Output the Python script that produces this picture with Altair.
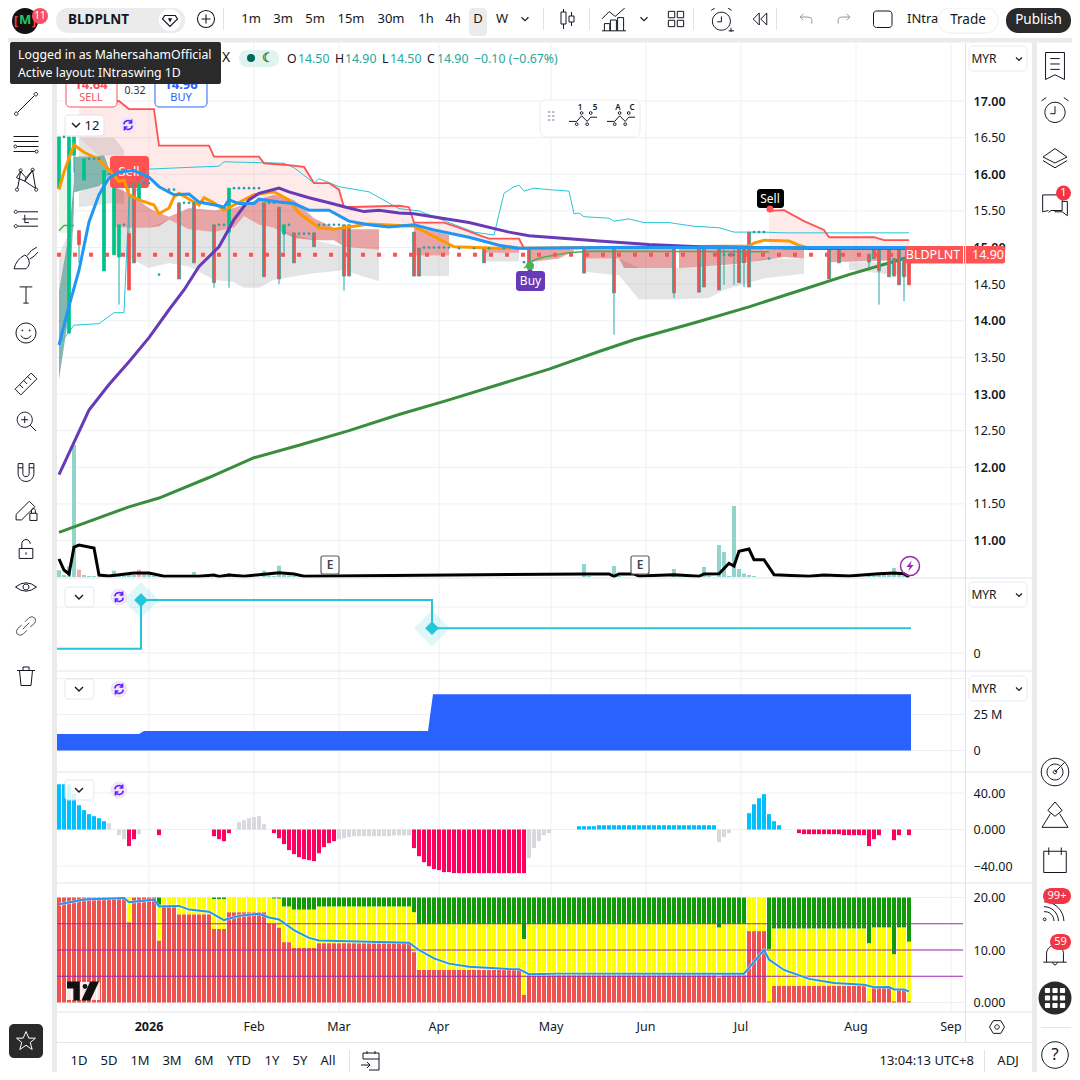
import altair as alt
import pandas as pd

FONT = "Noto Sans"
W = H = 1064

# ---------- candles ----------
candle_i = [0, 2, 3, 4, 5, 9, 11, 12, 14, 15, 16, 24, 27, 31, 34, 41, 44, 45, 47, 51, 57, 58, 71, 72, 85, 94, 105, 111,
            123, 128, 129, 132, 136, 137, 138, 154, 156, 162, 163, 164, 166, 167, 168, 169, 170]
candle_top = [16.51, 16.51, 16.51, 15.23, 16.21, 16.05, 15.81, 15.31, 15.19, 15.88, 15.88, 15.61, 15.61, 15.31, 15.81,
              15.61, 15.55, 15.31, 15.20, 15.20, 15.31, 15.31, 15.21, 14.99, 14.99, 14.99, 14.99, 14.99,
              14.99, 14.99, 14.99, 14.99, 14.99, 14.99, 15.21, 14.99, 14.99, 14.91, 14.99, 14.99, 14.99, 14.85, 14.99, 14.85, 14.85]
candle_bot = [15.81, 13.83, 16.26, 15.04, 15.92, 14.68, 14.90, 14.87, 14.42, 14.79, 15.65, 14.57, 14.79, 14.52, 15.21,
              14.60, 14.57, 15.19, 14.79, 15.01, 14.61, 14.61, 14.61, 14.61, 14.79, 14.79, 14.65, 14.38,
              14.38, 14.39, 14.46, 14.42, 14.52, 14.79, 14.46, 14.57, 14.79, 14.80, 14.85, 14.68, 14.60, 14.61, 14.49, 14.60, 14.49]
candle_low = [15.81, 13.83, 16.02, 14.79, 15.92, 14.68, 14.90, 14.22, 14.42, 14.79, 15.65, 14.57, 14.79, 14.45, 14.45,
              14.60, 14.50, 14.93, 14.79, 15.01, 14.41, 14.61, 14.61, 14.61, 14.79, 14.79, 14.65, 13.81,
              14.31, 14.39, 14.46, 14.42, 14.52, 14.46, 14.46, 14.57, 14.79, 14.72, 14.85, 14.22, 14.60, 14.61, 14.49, 14.27, 14.49]
candle_high = [16.51, 16.51, 16.51, 15.23, 16.21, 16.05, 15.81, 15.31, 15.88, 15.88, 15.88, 15.61, 15.61, 15.31, 15.81,
               15.61, 15.55, 15.31, 15.20, 15.20, 15.31, 15.31, 15.21, 14.99, 14.99, 14.99, 14.99, 14.99,
               14.99, 14.99, 14.99, 14.99, 14.99, 14.99, 15.21, 14.99, 14.99, 14.91, 14.99, 14.99, 14.99, 14.85, 14.99, 14.85, 14.85]
candle_kind = ["g", "g", "g", "r", "g", "g", "g", "g", "r", "b", "g", "b", "b", "b", "g",
               "b", "b", "g", "b", "b", "b", "b", "b", "b", "b", "b", "b", "b",
               "b", "b", "b", "b", "b", "b", "b", "b", "b", "b", "b", "b", "b", "b", "b", "b", "r"]
extra_wick_i = [133, 135]
extra_wick_top = [14.99, 14.99]
extra_wick_low = [14.49, 14.49]

# ---------- moving averages ----------
blue_i = [0, 2, 4, 6, 8, 10, 12, 15, 18, 20, 23, 26, 28, 32, 33, 34, 36, 39, 40, 44, 47, 50, 54, 58, 62, 66, 71, 75, 82, 88, 92, 110, 130, 150, 170]
blue_v = [13.67, 14.20, 14.69, 15.35, 15.72, 15.95, 16.03, 16.05, 15.96, 15.83, 15.72, 15.73, 15.62, 15.57, 15.55, 15.65, 15.60, 15.60, 15.66, 15.62, 15.60, 15.51, 15.51, 15.36, 15.31, 15.28, 15.31, 15.24, 15.14, 15.03, 14.99, 15.00, 15.00, 15.00, 15.00]
orange_i = [0, 1, 3, 5, 8, 10, 12, 13, 14, 16, 19, 20, 22, 23, 24, 28, 29, 31, 33, 35, 39, 43, 46, 48, 52, 55, 58, 62, 71, 79, 88, 93, 138, 139, 141, 146, 148, 150, 170]
orange_v = [15.79, 16.03, 16.40, 16.30, 16.20, 16.06, 15.90, 15.92, 15.72, 15.65, 15.58, 15.46, 15.54, 15.69, 15.74, 15.58, 15.68, 15.61, 15.51, 15.58, 15.72, 15.76, 15.65, 15.47, 15.27, 15.25, 15.28, 15.32, 15.29, 15.01, 14.99, 14.99, 15.02, 15.06, 15.10, 15.09, 15.03, 14.99, 14.99]
purple_i = [0, 6, 10, 14, 18, 22, 25, 28, 32, 35, 38, 40, 44, 46, 50, 54, 58, 61, 64, 68, 71, 82, 90, 94, 108, 118, 128, 150, 170]
purple_v = [11.90, 12.78, 13.13, 13.44, 13.77, 14.15, 14.42, 14.74, 15.01, 15.38, 15.65, 15.74, 15.81, 15.76, 15.68, 15.61, 15.54, 15.49, 15.51, 15.47, 15.46, 15.34, 15.21, 15.16, 15.09, 15.04, 15.01, 14.99, 14.99]
sma_i = [0, 14, 20, 30, 39, 48, 58, 68, 78, 88, 98, 108, 115, 128, 138, 148, 158, 168, 170]
sma_v = [11.11, 11.46, 11.58, 11.86, 12.13, 12.30, 12.50, 12.72, 12.92, 13.13, 13.34, 13.58, 13.74, 13.99, 14.19, 14.41, 14.63, 14.83, 14.87]

# ---------- resistance (red) / teal channel / thin green ----------
res1_i = [4, 12, 14, 19, 20, 30, 31, 40, 41, 45, 49, 51, 54, 56, 57, 68, 70, 71, 77, 80, 84, 86, 92, 93]
res1_v = [16.98, 17.00, 16.89, 16.89, 16.39, 16.39, 16.24, 16.24, 16.15, 16.13, 16.10, 15.88, 15.88, 15.79, 15.55, 15.57, 15.55, 15.34, 15.34, 15.27, 15.17, 15.12, 15.12, 14.99]
res1_low = [16.50, 16.00, 16.03, 15.90, 15.83, 15.60, 15.60, 15.66, 15.66, 15.62, 15.53, 15.51, 15.51, 15.40, 15.36, 15.30, 15.31, 15.31, 15.22, 15.17, 15.10, 15.07, 14.99, 14.99]
res2_i = [142, 145, 149, 153, 154, 163, 165, 170]
res2_v = [15.50, 15.51, 15.36, 15.24, 15.14, 15.14, 15.10, 15.10]
res2_low = [15.02, 15.02, 15.02, 15.02, 15.02, 15.02, 15.02, 15.02]
teal_i = [0, 3, 8, 11, 13, 14, 16, 18, 28, 32, 33, 45, 47, 51, 52, 56, 62, 68, 72, 78, 83, 87, 89, 91, 92, 93, 95, 98, 102, 103, 104, 105, 110, 111, 114, 117, 122, 127, 132, 135, 141, 145, 170]
teal_v = [13.67, 13.94, 13.96, 14.11, 14.11, 15.65, 15.83, 16.07, 16.10, 16.11, 16.17, 16.15, 16.09, 15.88, 15.94, 15.83, 15.76, 15.53, 15.50, 15.34, 15.21, 15.17, 15.74, 15.83, 15.85, 15.77, 15.81, 15.79, 15.77, 15.46, 15.47, 15.42, 15.40, 15.36, 15.39, 15.34, 15.34, 15.29, 15.27, 15.21, 15.21, 15.20, 15.20]
thin1_i = [0, 1, 3]
thin1_v = [15.23, 15.30, 15.30]
thin2_i = [93, 95, 97, 102, 106, 142]
thin2_v = [14.72, 14.83, 14.87, 14.93, 14.95, 14.94]

# ---------- clouds ----------
rb_seg = [1] * 16 + [2, 2, 3, 3, 4, 4, 4, 5, 5, 5, 5, 6, 6, 6, 6, 7, 7]
rb_i = [11, 14, 18, 20, 22, 26, 31, 35, 37, 40, 43, 47, 51, 55, 57, 64, 71, 78, 85, 92, 94, 100, 103, 105, 112, 113, 123, 124, 135, 145, 149, 154, 170]
rb_top = [15.83, 15.74, 15.54, 15.47, 15.42, 15.54, 15.51, 15.54, 15.59, 15.66, 15.72, 15.65, 15.40, 15.27, 15.25, 15.25, 15.28, 15.17, 14.99, 14.99, 14.99, 14.99, 14.97, 14.99, 14.99, 14.99, 14.99, 14.99, 14.99, 14.99, 14.99, 14.99, 14.99]
rb_bot = [15.28, 15.27, 15.27, 15.29, 15.38, 15.25, 15.21, 15.27, 15.43, 15.31, 15.27, 15.13, 15.10, 15.10, 15.01, 14.97, 14.89, 14.89, 14.93, 14.93, 14.80, 14.85, 14.95, 14.85, 14.85, 14.72, 14.72, 14.72, 14.77, 14.87, 14.85, 14.80, 14.83]
gb_seg = [1] * 13 + [2, 2, 3, 3, 5, 5, 5, 5, 6, 6, 6, 6, 6, 6, 7, 7, 0, 0, 0, 8, 8, 8, 9, 9]
gb_i = [11, 14, 18, 22, 26, 31, 35, 37, 40, 43, 51, 57, 64, 71, 78, 85, 92, 105, 112, 116, 123, 123, 130, 133, 137, 141, 149, 158, 170, 4, 11, 13, 4, 10, 13, 0, 2]
gb_top = [15.28, 15.27, 15.27, 15.38, 15.25, 15.21, 15.27, 15.43, 15.31, 15.27, 15.10, 15.01, 14.97, 14.89, 14.89, 14.93, 14.93, 14.85, 14.85, 14.72, 14.72, 14.72, 14.75, 14.75, 14.77, 14.85, 14.85, 14.80, 14.80, 16.50, 16.50, 16.33, 15.75, 15.95, 16.00, 14.90, 15.20]
gb_bot = [14.90, 14.86, 14.72, 14.79, 14.74, 14.56, 14.53, 14.45, 14.45, 14.56, 14.65, 14.69, 14.54, 14.61, 14.61, 14.81, 14.81, 14.67, 14.62, 14.29, 14.29, 14.29, 14.31, 14.42, 14.50, 14.58, 14.64, 14.70, 14.60, 16.24, 16.26, 16.10, 15.55, 15.60, 15.60, 14.30, 15.00]
tc_seg = [1, 1, 1, 2, 2, 2, 2, 2]
tc_i = [0, 2, 3, 3, 8, 9, 10, 11]
tc_top = [14.40, 15.20, 15.90, 16.24, 16.25, 16.26, 16.09, 16.05]
tc_bot = [13.20, 14.10, 15.60, 15.75, 15.84, 15.90, 16.00, 16.03]

# ---------- small dots ----------
dot_i = [1, 6, 7, 8, 10, 13, 17, 18, 20, 22, 23, 25, 26, 27, 32, 33, 35, 36, 37, 38, 39, 40, 42, 43, 45, 46, 48, 49, 50, 52, 53, 54, 55, 56,
         73, 74, 75, 76, 77, 78, 80, 83, 86, 89, 93, 133, 134, 135, 139, 140, 141, 142, 143, 145, 147, 149]
dot_v = [16.51, 16.21, 16.21, 16.21, 16.00, 15.31, 15.88, 15.88, 14.63, 15.79, 15.79, 15.61, 15.61, 15.61, 15.31, 15.31, 15.81, 15.81, 15.81, 15.81, 15.81, 15.81, 15.61, 15.61, 15.19, 15.31, 15.19, 15.19, 15.19, 15.31, 15.31, 15.31, 15.31, 15.31,
         15.00, 15.00, 15.00, 15.00, 15.00, 15.00, 14.99, 14.99, 14.99, 14.99, 14.80, 14.90, 14.90, 14.90, 15.21, 15.21, 15.21, 14.85, 14.99, 14.99, 14.99, 14.99]

# ---------- volume ----------
vol_i = [0, 1, 2, 3, 4, 5, 6, 7, 11, 12, 13, 14, 15, 16, 17, 18, 19, 21, 24, 27, 28, 34, 35, 41, 42, 43, 44, 45, 46, 47, 105, 106, 111, 112, 123, 124, 129, 130, 132, 133, 134, 135, 136, 137, 138, 139, 162, 163, 164, 165, 166, 167, 168, 169]
vol_h = [6.7, 2, 10.7, 132, 7.3, 2, 1, 1, 6.3, 1.5, 1.5, 2.3, 2, 7.3, 5, 3, 1, 1, 1, 5, 1, 4, 1, 6.3, 1.5, 1, 11.3, 2, 1.5, 1, 13, 1, 11, 1, 8, 1, 10, 1, 32, 25, 1, 71, 8, 3.5, 2, 1, 1, 1.5, 2, 2, 2, 9, 3, 2]
vol_kind = ["u", "u", "u", "u", "d"] + ["u"] * 6 + ["u", "u", "d"] + ["u"] * 40
volma_i = [0, 1, 2, 3, 4, 7, 8, 10, 15, 18, 21, 28, 31, 32, 34, 37, 44, 47, 49, 105, 110, 111, 112, 115, 116, 123, 128, 129, 132, 134, 135, 136, 138, 139, 141, 143, 150, 153, 158, 164, 167, 169, 170]
volma_h = [18, 7, 3, 30, 32, 29, 2, 1, 4, 4, 0.7, 0.8, 2, 0.5, 2, 0.7, 4.3, 3, 0.7, 3, 3, 0.7, 3, 3, 1, 2.3, 0.7, 3, 3.3, 13.7, 11, 25.7, 28, 17.3, 17.3, 2.3, 0.7, 2, 1, 3.3, 4, 3.3, 0]

# ---------- step pane ----------
step_i = [-0.4, 16.4, 74.6, 170.4]
step_v = [0.09, 1.15, 0.54, 0.54]
pivot_i = [16.4, 74.6]
pivot_v = [1.15, 0.54]

# ---------- funds pane ----------
fund_i = [-0.4, 16, 17, 73.8, 74.8, 170.4]
fund_v = [11.5, 11.5, 13.5, 13.5, 39.0, 39.0]

# ---------- histogram pane ----------
hist_v = ([49.6, 49.6, 49.6, 39.4, 26.6, 21.2, 16.8, 14.6, 12.4, 9.1,
           6.9, 0, -6.2, -10.6, -18.2, -10.6, -5.1, 0, 0, 0, -6.2]
          + [0] * 10 + [-7.3, -10.6, -12.8, -4.0, 0, 8, 10.2, 12.4, 13.5, 14.6, 5.8,
                        0, -4, -9.5, -16, -22.6, -27, -30.3, -32.5, -33.6, -34.7, -26, -19.3, -15, -12.8,
                        -10.6, -9.5, -8.4] + [-7.3] * 8 + [-6.5] * 4
          + [-20.4, -29.2, -35.8, -40.2, -43.4, -44.5, -46.7, -46.7] + [-47.8] * 15
          + [-31.4, -20.4, -12.8, -6.2, -4] + [0] * 5 + [3.6] * 4 + [4.7] * 24
          + [-13.9, -8.4, -4, 0, 0, 0, 17.9, 27.7, 34.3, 38.7, 16.8, 9.1, 4.7, 0, 0, 0, -4]
          + [-5.1] * 8 + [-6.2] * 5 + [-18.2, -10.6, -6.2, 0, 0, -11.7, -6.2, 0, -6.2])
hist_state = (["up"] * 10 + ["flat"] * 4 + ["down"] * 2 + ["flat"] * 4 + ["down"] + ["flat"] * 10 + ["down"] * 4
              + ["flat"] * 7 + ["down"] * 14 + ["flat"] * 15 + ["down"] * 23 + ["flat"] * 10 + ["up"] * 28
              + ["flat"] * 6 + ["up"] * 7 + ["flat"] * 3 + ["down"] * 23)

# ---------- stacked rank pane ----------
red_top = ([20] * 14 + [15.3] + [20] * 5 + [11.8] + [18.6] * 3 + [16.8] * 7 + [14] * 3 + [17.2] * 8 + [15, 15, 14.3]
           + [11.5] * 2 + [10.4] * 5 + [11.3] * 19 + [9.6] + [6.2] * 21 + [1.5] + [5.2] * 38 + [4.8] + [5.2] * 5
           + [13.6] * 4 + [0.25] + [3.2] * 19 + [0.25] + [2.8] * 4 + [0.25] + [2.5] * 2 + [0.25])
yellow_top = ([20] * 20 + [18.6] + [20] * 10 + [19.7] * 3 + [20] * 9 + [19.8, 19.8]
              + [18.3] * 2 + [17.7] * 5 + [18.3] * 19 + [17.2] + [15] * 21 + [12.1] + [15] * 38 + [14.3] + [15] * 5
              + [20] * 4 + [10.2] + [14.1] * 19 + [11.3] + [14.3] * 4 + [9.2] + [14.3] * 2 + [11.6])
rank_line_i = [0, 5, 13, 14, 19, 20, 24, 26, 30, 33, 36, 40, 42, 44, 47, 50, 52, 60, 70, 72, 75, 78, 82, 90, 92, 94, 100, 137, 141, 142, 145, 150, 155, 161, 163, 166, 167, 169, 170]
rank_line_v = [18.7, 19.6, 19.9, 19.1, 19.6, 18.3, 18.4, 17.7, 17.3, 15.7, 16.5, 16.9, 16.2, 15.8, 13.8, 12.3, 11.8, 11.6, 11.4, 10.0, 8.4, 7.4, 6.8, 6.4, 6.35, 5.4, 5.5, 5.5, 10.0, 8.2, 6.2, 4.5, 3.7, 3.4, 2.9, 2.95, 2.5, 2.5, 2.1]
rank_levels = [5, 10, 15]

# ---------- axes ----------
price_ticks = [17, 16.5, 16, 15.5, 15, 14.5, 14, 13.5, 13, 12.5, 12, 11.5, 11]
month_pos = [18, 39, 56, 76, 98.4, 117.4, 136.4, 159.4, 178.4]
month_txt = ["2026", "Feb", "Mar", "Apr", "May", "Jun", "Jul", "Aug", "Sep"]
month_bold = ["bold", "normal", "normal", "normal", "normal", "normal", "normal", "normal", "normal"]
step_ticks = [0, 1]
fund_ticks = [0, 25, 50]
hist_ticks = [40, 0, -40]
rank_ticks = [20, 10, 0]
last_price = 14.90


def dom(v0, px0, v1, px1):
    k = (v1 - v0) / (px1 - px0)
    return [v0 + (1072 - px0) * k, v0 + (8 - px0) * k]


PRICE = dom(17.0, 101, 11.0, 540.5)
VOL = dom(0, 577, 100, 477)
STEP = dom(0, 653, 1, 607)
FUND = dom(0, 750.5, 25, 714.5)
HIST = dom(0, 829.5, 40, 793)
RANK = dom(0, 1002.5, 20, 897.5)
XS = alt.Scale(domain=[(8 - 59) / 5, (1072 - 59) / 5], nice=False, zero=False, padding=0)


def Y(f, d, axis=None):
    return alt.Y(f, scale=alt.Scale(domain=d, nice=False, zero=False), axis=axis, title=None)


def X(f="i:Q", axis=None):
    return alt.X(f, scale=XS, axis=axis, title=None)


def line(i, v, d, color, width=1.0, **kw):
    return alt.Chart(pd.DataFrame({"i": i, "v": v})).mark_line(color=color, strokeWidth=width, clip=False, **kw).encode(x=X(), y=Y("v:Q", d))


def band(i, top, bot, seg, color, op):
    df = pd.DataFrame({"i": i, "t": top, "b": bot, "s": seg})
    return alt.Chart(df).mark_area(color=color, opacity=op).encode(x=X(), y=Y("t:Q", PRICE), y2="b:Q", detail="s:N")


one = pd.DataFrame({"a": [0]})


def rect(x0, y0, x1, y1, fill="#ffffff", stroke=None, r=0, op=1.0, sw=1):
    kw = dict(fill=fill, opacity=op, cornerRadius=r)
    if stroke:
        kw.update(stroke=stroke, strokeWidth=sw)
    return alt.Chart(one).mark_rect(**kw).encode(x=alt.value(x0 - 8), x2=alt.value(x1 - 8), y=alt.value(y0 - 8), y2=alt.value(y1 - 8))


def txt(s, x, y, size=13, color="#131722", align="center", weight="normal", op=1.0):
    return alt.Chart(one).mark_text(text=s, font=FONT, fontSize=size, color=color, align=align, baseline="middle", fontWeight=weight, opacity=op).encode(x=alt.value(x - 8), y=alt.value(y - 8))


def icon(path, x, y, w, color="#131722", sw=1.0, filled=False, op=1.0):
    if filled:
        m = alt.Chart(one).mark_point(shape=path, size=w * w, filled=True, fill=color, strokeWidth=0, opacity=op)
    else:
        m = alt.Chart(one).mark_point(shape=path, size=w * w, filled=False, stroke=color, strokeWidth=sw, opacity=op)
    return m.encode(x=alt.value(x - 8), y=alt.value(y - 8))


def dot(x, y, r, fill, op=1.0):
    return icon("circle", x, y, 2 * r, fill, filled=True, op=op)


def circ(x, y, r):
    return f"M{x - r},{y}a{r},{r} 0 1,0 {2 * r},0a{r},{r} 0 1,0 {-2 * r},0Z"


def ax_y(values, expr=None, fmt=None, weight=None, color="#131722"):
    kw = dict(orient="right", offset=-107, values=values, grid=False, domain=False, ticks=False, labelPadding=8,
              labelFont=FONT, labelFontSize=12.5, labelColor=color, labelAlign="left", labelBaseline="middle",
              labelOverlap=False, labelBound=False, labelFlush=False, title=None)
    if expr:
        kw["labelExpr"] = expr
    if fmt:
        kw["format"] = fmt
    if weight:
        kw["labelFontWeight"] = weight
    return alt.Axis(**kw)


def hgrid(values, d, axis):
    df = pd.DataFrame({"v": values})
    return alt.Chart(df).mark_rule(color="#eef0f4", strokeWidth=1).encode(y=Y("v:Q", d, axis), x=alt.value(49), x2=alt.value(957))


layers = []
add = layers.append

# ---- grids with axes
mdf = pd.DataFrame({"i": month_pos, "t": month_txt, "b": month_bold})
add(alt.Chart(mdf).mark_rule(color="#eef0f4").encode(x=X("i:Q"), y=alt.value(35), y2=alt.value(1004)))
add(alt.Chart(mdf[mdf.b == "normal"]).mark_text(font=FONT, fontSize=12.5, color="#131722", baseline="middle").encode(x=X("i:Q"), y=alt.value(1019), text="t:N"))
add(alt.Chart(mdf[mdf.b == "bold"]).mark_text(font=FONT, fontSize=12.5, color="#131722", baseline="middle", fontWeight="bold").encode(x=X("i:Q"), y=alt.value(1019), text="t:N"))
add(hgrid(price_ticks, PRICE, ax_y(price_ticks, fmt=".2f", weight={"condition": {"test": "datum.value % 1 == 0", "value": 600}, "value": "normal"})))
add(hgrid(step_ticks, STEP, ax_y([0], expr="'0'")))
add(hgrid(fund_ticks, FUND, ax_y([0, 25], expr="datum.value == 25 ? '25 M' : '0'")))
add(hgrid(hist_ticks, HIST, ax_y(hist_ticks, expr="datum.value == 0 ? '0.000' : datum.value > 0 ? '40.00' : '−40.00'")))
add(hgrid(rank_ticks, RANK, ax_y(rank_ticks, expr="datum.value == 0 ? '0.000' : datum.value == 10 ? '10.00' : '20.00'")))

# ---- main pane: volume
vdf = pd.DataFrame({"i": vol_i, "h": vol_h, "k": (vol_kind + ["u"] * len(vol_i))[:len(vol_i)]})
add(alt.Chart(vdf).mark_bar(size=4).encode(x=X(), y=Y("h:Q", VOL), y2=alt.Y2(datum=0),
                                             color=alt.Color("k:N", scale=alt.Scale(domain=["u", "d"], range=["#92d3cc", "#f7a9a7"]), legend=None)))

# ---- clouds
add(alt.Chart(pd.DataFrame({"i": [0, 3], "t": [16.0, 16.0], "b": [15.2, 15.2]})).mark_area(color="#e8f5e9").encode(x=X(), y=Y("t:Q", PRICE), y2="b:Q"))
add(band(tc_i, tc_top, tc_bot, tc_seg, "#00695c", 0.48))
add(band(gb_i, gb_top, gb_bot, gb_seg, "#9e9e9e", 0.28))
add(band(rb_i, rb_top, rb_bot, rb_seg, "#c62828", 0.42))
add(band(res1_i, res1_v, res1_low, [1] * len(res1_i), "#ff5252", 0.12))
add(band(res2_i, res2_v, res2_low, [1] * len(res2_i), "#ff5252", 0.12))

# ---- big red Sell tag under the lines
add(rect(110, 156, 149, 188, "#ff5252", r=3))
add(txt("Sell", 129, 172, 13, "#ffffff"))

# ---- lines under candles
add(line(teal_i, teal_v, PRICE, "#26c6da", 1))
add(line(thin1_i, thin1_v, PRICE, "#4caf50", 1.5))
add(line(thin2_i, thin2_v, PRICE, "#4caf50", 1.5))
add(line(res1_i, res1_v, PRICE, "#ff5252", 1.8))
add(line(res2_i, res2_v, PRICE, "#ff5252", 1.8))
add(line(sma_i, sma_v, PRICE, "#388e3c", 3))

# ---- candles
cdf = pd.DataFrame({"i": candle_i, "t": candle_top, "b": candle_bot, "l": candle_low, "h": candle_high, "k": candle_kind})
add(alt.Chart(cdf).mark_rule(color="#26a69a", strokeWidth=1).encode(x=X(), y=Y("l:Q", PRICE), y2="h:Q"))
add(alt.Chart(pd.DataFrame({"i": extra_wick_i, "t": extra_wick_top, "l": extra_wick_low})).mark_rule(color="#26a69a", strokeWidth=1).encode(x=X(), y=Y("l:Q", PRICE), y2="t:Q"))
add(alt.Chart(cdf).mark_bar(size=3, strokeWidth=0.7).encode(
    x=X(), y=Y("t:Q", PRICE), y2="b:Q",
    fill=alt.Fill("k:N", scale=alt.Scale(domain=["g", "r", "b"], range=["#00c389", "#f44b4b", "#f0524f"]), legend=None),
    stroke=alt.Stroke("k:N", scale=alt.Scale(domain=["g", "r", "b"], range=["#00c389", "#f44b4b", "#26a69a"]), legend=None)))

# ---- moving averages on top
add(line(orange_i, orange_v, PRICE, "#ff9800", 3))
add(line(purple_i, purple_v, PRICE, "#673ab7", 3))
add(line(blue_i, blue_v, PRICE, "#2196f3", 3))

# ---- last price dots and small dots
add(alt.Chart(pd.DataFrame({"v": [last_price]})).mark_rule(color="#ff5252", strokeWidth=4, strokeDash=[4, 12]).encode(y=Y("v:Q", PRICE), x=alt.value(49), x2=alt.value(957)))
add(alt.Chart(pd.DataFrame({"i": dot_i, "v": dot_v})).mark_point(filled=True, size=7, color="#2b9cb5", opacity=1).encode(x=X(), y=Y("v:Q", PRICE)))

# ---- volume MA
add(line(volma_i, volma_h, VOL, "#000000", 3))

# ---- step pane
add(alt.Chart(pd.DataFrame({"i": pivot_i, "v": pivot_v})).mark_point(shape="diamond", filled=True, size=1300, color="#26c6da", opacity=0.14).encode(x=X(), y=Y("v:Q", STEP)))
add(alt.Chart(pd.DataFrame({"i": step_i, "v": step_v})).mark_line(color="#26c6da", strokeWidth=2, interpolate="step-after").encode(x=X(), y=Y("v:Q", STEP)))
add(alt.Chart(pd.DataFrame({"i": pivot_i, "v": pivot_v})).mark_point(shape="diamond", filled=True, size=190, color="#26c6da", opacity=1).encode(x=X(), y=Y("v:Q", STEP)))

# ---- funds pane
add(alt.Chart(pd.DataFrame({"i": fund_i, "v": fund_v})).mark_area(color="#2962ff").encode(x=X(), y=Y("v:Q", FUND), y2=alt.Y2(datum=0)))

# ---- histogram pane
hdf = pd.DataFrame({"i": list(range(171)), "v": hist_v, "s": hist_state})
add(alt.Chart(hdf[hdf.v != 0]).mark_bar(size=4).encode(x=X(), y=Y("v:Q", HIST), y2=alt.Y2(datum=0),
                                                        color=alt.Color("s:N", scale=alt.Scale(domain=["up", "flat", "down"], range=["#00bfff", "#d8d9de", "#ff0060"]), legend=None)))

# ---- rank pane
rdf = pd.DataFrame({"i": list(range(171)), "r": red_top, "y": yellow_top, "top": [20] * 171})
add(alt.Chart(rdf).mark_bar(size=4, color="#ef5350").encode(x=X(), y=Y("r:Q", RANK), y2=alt.Y2(datum=0)))
add(alt.Chart(rdf).mark_bar(size=4, color="#ffff00").encode(x=X(), y=Y("y:Q", RANK), y2="r:Q"))
add(alt.Chart(rdf).mark_bar(size=4, color="#119a08").encode(x=X(), y=Y("top:Q", RANK), y2="y:Q"))
add(alt.Chart(pd.DataFrame({"v": rank_levels})).mark_rule(color="#9c27b0", strokeWidth=1).encode(y=Y("v:Q", RANK), x=alt.value(49), x2=alt.value(955)))
add(line(rank_line_i, rank_line_v, RANK, "#ffffff", 3.2, opacity=0.5))
add(line(rank_line_i, rank_line_v, RANK, "#2196f3", 2))

# ---- chart tags
add(rect(66, 982, 100, 1000, "#ffffff", op=0.85))
add(icon("M-1,-.6H-.2V.6H-.6V-.15H-1Z", 83, 991, 32, "#111111", filled=True))
add(dot(85, 986.5, 2.4, "#111111"))
add(icon("M.45,-.6H1L.45,.6H-.1Z", 83, 991, 32, "#111111", filled=True))
add(rect(516, 271, 545, 291, "#673ab7", r=3))
add(icon("triangle-up", 530, 270, 8, "#673ab7", filled=True))
add(txt("Buy", 530.5, 281, 12, "#ffffff"))
add(dot(530, 266, 4, "#4caf50"))
add(rect(757, 189, 784, 208, "#000000", r=3))
add(txt("Sell", 770, 198.5, 12, "#ffffff"))
add(dot(770, 209, 3.5, "#ff5252"))
add(rect(321, 556, 339, 574, "#ffffff", "#5d5d5d", r=2, sw=1.2))
add(txt("E", 330, 565, 12, "#444444", weight=600))
add(rect(631, 556, 649, 574, "#ffffff", "#5d5d5d", r=2, sw=1.2))
add(txt("E", 640, 565, 12, "#444444", weight=600))
add(icon(circ(0, 0, 0.95), 910, 566, 20, "#9c27b0", 1.5))
add(icon("M.3,-.9L-.6,.15H-.05L-.3,.9L.6,-.15H.05Z", 910, 566, 12, "#9c27b0", filled=True))

# ---- price tag
add(rect(905, 246, 1005, 263.5, "#ff5252", r=2))
add(txt("BLDPLNT", 933, 255, 12.5, "#ffffff"))
add(rect(963, 246, 964, 263.5, "#ffffff"))
add(txt("14.90", 988, 255, 12.5, "#ffffff"))

# ---- frame lines
for y_ in (578, 671, 772, 883, 1012):
    add(rect(56, y_ - 0.5, 1032, y_ + 0.5, "#e0e3eb"))
add(rect(965, 43, 966, 1042, "#e0e3eb"))
add(rect(52, 38, 57, 1072, "#ebebeb"))
add(rect(1032, 38, 1037, 1072, "#ebebeb"))
add(rect(8, 38, 1072, 42.5, "#ebebeb"))
add(rect(57, 1042, 1032, 1043, "#e6e6e6"))

# ---- floating widget
WAVE = "M-1,.1L-.45,.1L-.1,-.3L.3,.1L.55,-.2L1,-.2 " + circ(-.45, .3, .1) + circ(.3, .3, .1) + circ(-.1, -.5, .1) + circ(.55, -.5, .1)
add(rect(540, 100, 640, 137, "#ffffff", "#ececec", r=6))
add(icon(WAVE, 583, 120, 28, "#131722"))
add(icon(WAVE, 621, 120, 28, "#131722"))
add(txt("1", 580, 108, 8, weight=600))
add(txt("5", 595, 108, 8, weight=600))
add(txt("A", 618, 108, 8, weight=600))
add(txt("C", 632, 108, 8, weight=600))
add(txt("⠿", 551, 118, 14, "#b2b5be"))

# ---- legend bits
add(txt("X", 226, 58, 14))
add(rect(239, 50, 279, 67, "#dff3ef", r=8))
add(dot(251, 58, 4, "#00695c"))
add(txt("☾", 268, 58, 13, "#2e7d32", weight="bold"))
add(txt("O", 287, 59, 12.3, align="left"))
add(txt("14.50", 298, 59, 12.3, "#26a69a", align="left"))
add(txt("H", 335, 59, 12.3, align="left"))
add(txt("14.90", 345, 59, 12.3, "#26a69a", align="left"))
add(txt("L", 382, 59, 12.3, align="left"))
add(txt("14.50", 390, 59, 12.3, "#26a69a", align="left"))
add(txt("C", 427, 59, 12.3, align="left"))
add(txt("14.90", 437, 59, 12.3, "#26a69a", align="left"))
add(txt("−0.10 (−0.67%)", 474, 59, 12.3, "#26a69a", align="left"))

# ---- sell/buy boxes
add(rect(66, 72, 117, 107, "#ffffff", "#f7525f", r=4))
add(txt("14.64", 91, 85, 13, "#f7525f", weight="bold"))
add(txt("SELL", 91, 98, 11, "#f7525f"))
add(txt("0.32", 135, 91, 10.5, "#333333"))
add(rect(155, 72, 207, 107, "#ffffff", "#2962ff", r=4))
add(txt("14.96", 181, 85, 13, "#2962ff", weight="bold"))
add(txt("BUY", 181, 98, 11, "#2962ff"))

# ---- collapse boxes and sync icons
CHEV = "M-1,-.5L0,.5L1,-.5"
SYNC = "M-.7,-.1A.7,.7 0 0 1 .6,-.4M.7,.1A.7,.7 0 0 1 -.6,.4M.6,-.9V-.35H.1M-.6,.9V.35H-.1"
add(rect(65, 115, 104, 136, "#ffffff", "#e0e3eb", r=3))
add(icon(CHEV, 76, 125, 8, sw=1.4))
add(txt("12", 92, 126, 13))
for bx, by in ((128, 125), (119, 597), (119, 689), (119, 790)):
    add(dot(bx, by, 8.5, "#ede7f6"))
    add(icon(SYNC, bx, by, 12, "#651fff", 1.5))
for by in (597, 689, 790):
    add(rect(65, by - 10, 94, by + 10, "#ffffff", "#e0e3eb", r=3, op=0.85))
    add(icon(CHEV, 79, by, 8, sw=1.4))

# ---- currency boxes
for by in (59, 595, 689):
    add(rect(969, by - 13, 1027, by + 12, "#ffffff", "#e8eaf0", r=4))
    add(txt("MYR", 984, by, 12, align="center"))
    add(icon(CHEV, 1019, by, 6, sw=1.2))

# ---- top bar
add(dot(25, 21, 13, "#111111"))
add(txt("[", 16, 21, 13, "#f23645", weight="bold"))
add(txt("M", 25, 20, 13, "#22c55e", weight="bold"))
add(txt("]", 34, 21, 13, "#f23645", weight="bold"))
add(dot(40, 16, 8, "#f7525f"))
add(txt("11", 40, 16, 10, "#ffffff"))
add(rect(56, 8, 185, 33, "#ebebeb", r=12))
add(txt("BLDPLNT", 68, 20, 13.5, "#131722", align="left", weight="bold"))
add(dot(170, 20, 11, "#ffffff"))
add(icon("M-.7,-.6H.7L1,-.15L0,.85L-1,-.15Z M-.15,-.15H.15L0,.15Z", 170, 20, 15, sw=1.2))
add(icon(circ(0, 0, .95) + "M-.5,0H.5M0,-.5V.5", 206, 19, 18, sw=1.1))
for t, xx in (("1m", 251), ("3m", 283), ("5m", 315), ("15m", 351), ("30m", 391), ("1h", 426), ("4h", 453), ("W", 502)):
    add(txt(t, xx, 19, 13))
add(rect(469, 8, 487, 36, "#ebebeb", r=4))
add(txt("D", 478, 19, 13))
add(icon(CHEV, 525, 19, 7, sw=1.1))
for xx in (223, 543, 589, 693, 776):
    add(rect(xx, 8, xx + 1, 30, "#e0e3eb"))
add(icon("M-.6,-.7H-.1V.5H-.6ZM.2,-.3H.7V.3H.2ZM-.35,-1V-.7M-.35,.5V1M.45,-.7V-.3M.45,.3V.7", 567, 19, 20))
add(icon("M-1,-.1L-.4,-.7L.1,-.3L.9,-1M-.8,.9V.3H-.35V.9M-.3,.9V0H.2V.9M.3,.9V-.2H.8V.9M-1,.9H1", 614, 20, 24))
add(icon(CHEV, 644, 19, 7, sw=1.1))
add(icon("M-.9,-.9H-.15V-.15H-.9ZM.15,-.9H.9V-.15H.15ZM-.9,.15H-.15V.9H-.9ZM.15,.15H.9V.9H.15Z", 676, 19, 17))
add(icon(circ(-.05, .1, .75) + "M-.05,-.3V.15H-.4M-.9,-.8L-.6,-1M.8,-.8L.5,-1M.55,.9H1M.75,.65V1", 722, 20, 24))
add(icon("M-.1,-.8L-.9,0L-.1,.8ZM.9,-.8L.1,0L.9,.8Z", 760, 19, 15))
add(icon("M.9,.7V.1Q.9,-.3 .3,-.3H-.9M-.4,-.8L-.9,-.3L-.4,.2", 806, 19, 13, "#9598a1"))
add(icon("M-.9,.7V.1Q-.9,-.3 -.3,-.3H.9M.4,-.8L.9,-.3L.4,.2", 844, 19, 13, "#9598a1"))
add(rect(873.5, 11, 892, 27.5, "#ffffff", "#131722", r=3))
add(txt("INtra", 907, 19, 13, align="left"))
add(rect(938, 8, 998, 33, "#ffffff", "#eeeeee", r=12))
add(txt("Trade", 968, 20, 13.5))
add(rect(1006, 8, 1071, 33, "#2a2a2a", r=12))
add(txt("Publish", 1038.5, 20, 13.5, "#ffffff"))

# ---- left tools
LT = 26
add(icon("M-.7,.7L.7,-.7" + circ(-.85, .85, .15) + circ(.85, -.85, .15), LT, 104, 23))
add(icon("M-1,-.6H1M-1,-.2H1M-.7,.2H1M-1,.6H.7" + circ(.85, .6, .12) + circ(-.85, .2, .12), LT, 144, 25))
add(icon("M-.7,.7L-.45,-.7L0,-.2L.55,-.8L.8,.7L-.1,.1L-.8,-.2L-.45,-.7M0,-.2L-.1,.1L.55,-.8" + circ(-.75, .8, .13) + circ(.85, .8, .13) + circ(-.45, -.8, .13) + circ(.55, -.85, .13), LT, 180, 24))
add(icon("M-.7,-.6H1M-.7,.6H1M-.3,0H1" + circ(-.85, -.6, .13) + circ(-.85, .6, .13) + "M-.1,-.35V.3H.25", LT, 219, 24))
add(icon("M-1,.9H.0Q.5,.5 .1,-.1L-.1,-.25Q-.8,.1 -1,.9ZM.1,-.2Q.4,-.7 .9,-.9M.3,.1Q.7,-.1 1,-.5", LT, 258, 24))
add(icon("M-.7,-.9H.7M0,-.9V.9M-.3,.9H.3", LT, 295, 18))
add(icon(circ(0, 0, .95) + "M-.5,.25Q0,.85 .5,.25" + circ(-.35, -.25, .05) + circ(.35, -.25, .05), LT, 333, 21))
add(icon("M-.95,.45L.45,-.95L.95,-.45L-.45,.95ZM-.55,.05L-.25,.35M-.2,-.3L.1,0M.15,-.65L.45,-.35", LT, 384, 23))
add(icon(circ(-.12, -.12, .72) + "M.4,.4L.95,.95M-.12,-.45V.2M-.45,-.12H.2", LT, 421, 21))
add(icon("M-.75,-.8V.15A.75,.75 0 0 0 .75,.15V-.8H.3V.15A.3,.3 0 0 1 -.3,.15V-.8ZM-.75,-.4H-.3M.3,-.4H.75", LT, 472, 21))
add(icon("M-.9,.9V.4L.3,-.8L.8,-.3L-.4,.9ZM.35,.3H1V.95H.35ZM.5,.3V.05A.17,.17 0 0 1 .85,.05V.3", LT, 510, 22))
add(icon("M-.65,-.05H.65V.9H-.65ZM-.4,-.05V-.5A.4,.4 0 0 1 .4,-.5M0,.3V.55", LT, 549, 21))
add(icon("M-1,0Q0,-.8 1,0Q0,.8 -1,0Z" + circ(0, 0, .28), LT, 587, 21))
add(icon("M-.1,-.4L.3,-.8Q.6,-1 .85,-.75Q1,-.5 .8,-.25L.4,.1M.1,.4L-.3,.8Q-.6,1 -.85,.75Q-1,.5 -.8,.25L-.4,-.1M-.3,.3L.3,-.3", LT, 626, 21, "#555555"))
add(icon("M-.9,-.55H.9M-.3,-.55V-.9H.3V-.55M-.65,-.55L-.5,.95H.5L.65,-.55", LT, 676, 20))
add(rect(9, 1024, 43, 1058, "#2a2a2a", r=5))
add(icon("M0,-1L.3,-.3L1,-.3L.45,.15L.65,.9L0,.45L-.65,.9L-.45,.15L-1,-.3L-.3,-.3Z", 26, 1041, 19, "#ffffff"))

# ---- right tools
RT = 1055
add(icon("M-.7,-1H.7V1L0,.65L-.7,1ZM-.35,-.55H.35M-.35,-.15H.35M-.35,.25H.35", RT, 66, 27))
add(icon(circ(0, .1, .75) + "M0,-.35V.2H-.35M-1,-.75L-.65,-1M1,-.75L.65,-1", RT, 111, 27))
add(icon("M0,-.7L1,0L0,.5L-1,0ZM-1,.3L0,.9L1,.3", RT, 157, 24))
add(icon("M-.95,-.7H.55V.5H-.3L-.5,.65M.55,-.2H.95V.9L.55,.6H0V.5M-.95,-.7V.6L-.5,.5", RT, 204, 26))
add(dot(1063.5, 193, 7.5, "#f23645"))
add(txt("1", 1063.5, 193, 11, "#ffffff"))
add(icon(circ(0, 0, .95) + circ(0, 0, .55) + circ(0, 0, .12) + "M0,0L.7,-.7", RT, 772, 29))
add(icon("M0,-1L.55,-.35L0,.1L-.55,-.35ZM-.35,-.1L-1,.95H1L.35,-.1", RT, 815, 26))
add(icon("M-.9,-.7H.9V1H-.9ZM-.5,-1V-.4M.5,-1V-.4", RT, 860, 25))
add(icon(circ(-.85, .85, .13) + "M-.9,.15A.85,.85 0 0 1 0,1M-.9,-.3A1.3,1.3 0 0 1 .4,1M-.9,-.75A1.8,1.8 0 0 1 .9,1", RT - 1, 910, 22))
add(rect(1043, 888, 1071, 904, "#f23645", r=8))
add(txt("99+", 1057, 896, 11, "#ffffff"))
add(icon("M-.9,.55H.9M-.65,.55V-.1A.65,.65 0 0 1 .65,-.1V.55M-.2,.55Q0,1 .2,.55", RT, 955, 26))
add(rect(1050, 934, 1071, 950, "#f23645", r=8))
add(txt("59", 1060.5, 942, 11, "#ffffff"))
add(dot(RT, 998, 16.5, "#2a2a2a"))
for dy in (-7.5, 0, 7.5):
    for dx in (-7.5, 0, 7.5):
        add(rect(RT + dx - 2.6, 998 + dy - 2.6, RT + dx + 2.6, 998 + dy + 2.6, "#ffffff", r=1))
add(rect(1041, 1027, 1071, 1028, "#e6e6e6"))
add(icon(circ(0, 0, .95), RT, 1055, 28))
add(txt("?", RT, 1055, 17))

# ---- bottom bar
add(icon("M-.5,-.85H.5L1,0L.5,.85H-.5L-1,0Z" + circ(0, 0, .3), 997, 1027, 15))
for t, xx in (("1D", 79), ("5D", 109), ("1M", 140), ("3M", 172), ("6M", 204), ("YTD", 239), ("1Y", 272), ("5Y", 300), ("All", 328)):
    add(txt(t, xx, 1061, 13))
add(rect(349, 1050, 350, 1072, "#e0e3eb"))
add(icon("M-.8,-.2V-.8H.8V.9H-.2M-.8,-.2H.8M-.4,-1V-.7M.4,-1V-.7M-1,.4H-.1M-.4,.1L-.1,.4L-.4,.7", 371, 1061, 20))
add(txt("13:04:13 UTC+8", 974, 1061, 13, align="right"))
add(rect(984, 1050, 985, 1072, "#e0e3eb"))
add(txt("ADJ", 1008, 1061, 13))

# ---- login tooltip
add(rect(10, 42, 221, 84, "#2a2a2a", r=2))
add(txt("Logged in as MahersahamOfficial", 18, 55, 12.3, "#ffffff", align="left"))
add(txt("Active layout: INtraswing 1D", 18, 73, 12.3, "#ffffff", align="left"))

chart = alt.layer(*layers).resolve_scale(y="independent", color="independent", fill="independent", stroke="independent").resolve_axis(y="independent").properties(
    width=W, height=H, padding=0, autosize=alt.AutoSizeParams(type="none"), background="#ffffff"
).configure_view(strokeWidth=0)
chart.save("out.html", embed_options={"renderer": "svg", "actions": False})
